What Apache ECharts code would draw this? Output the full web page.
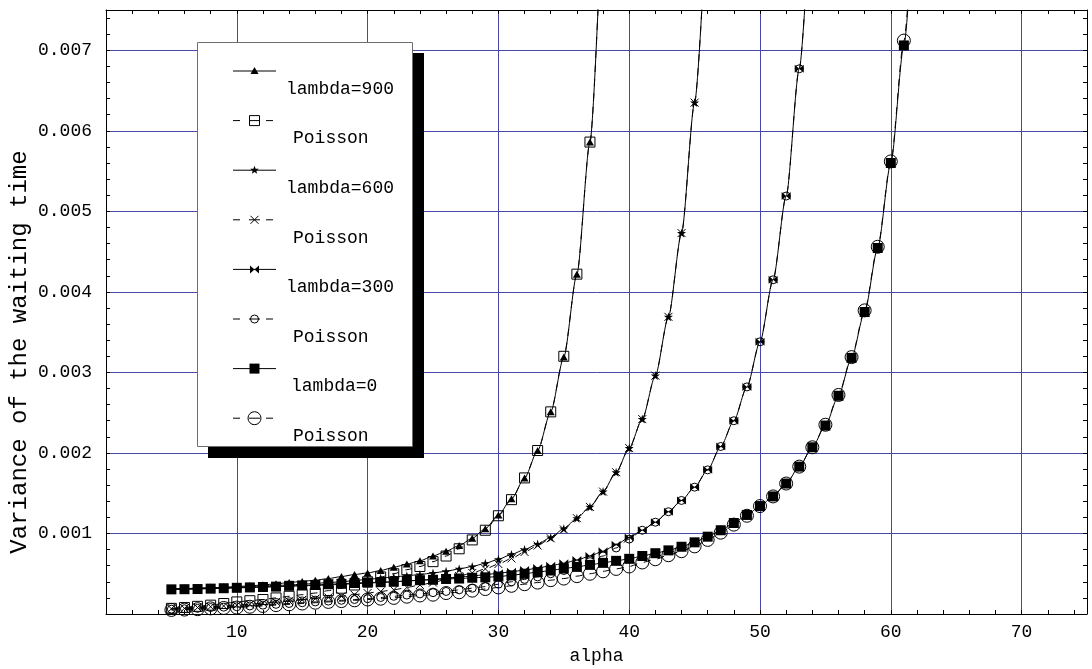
<!DOCTYPE html>
<html><head><meta charset="utf-8">
<script src="https://cdn.jsdelivr.net/npm/echarts@6/dist/echarts.min.js"></script>
<style>html,body{margin:0;padding:0;background:#fff}#c{width:1092px;height:669px}</style>
</head><body><div id="c"></div>
<script>
// ---- data (alpha values and variance of waiting time) ----
const alpha900 = [5,6,7,8,9,10,11,12,13,14,15,16,17,18,19,20,21,22,23,24,25,26,27,28,29,30,31,32,33,34,35,36,37,38];
const lambda900 = [0.00031,0.000315,0.00032,0.000325,0.00033,0.00034,0.00035,0.00036,0.000375,0.00039,0.000405,0.00042,0.00044,0.000465,0.00049,0.00051,0.00054,0.00058,0.00062,0.00066,0.00072,0.00078,0.00085,0.00094,0.00106,0.00123,0.00143,0.00169,0.00203,0.00251,0.00319,0.00422,0.00586,0.0090];
const poisson900 = [0.00007,0.00008,0.000095,0.00011,0.00013,0.00015,0.000165,0.00018,0.0002,0.00022,0.00024,0.00026,0.00029,0.00032,0.00036,0.0004,0.00046,0.0005,0.00055,0.00059,0.00065,0.00072,0.00081,0.00092,0.00104,0.00122,0.00142,0.00169,0.00203,0.00251,0.0032,0.00422,0.00586,0.0090];

const alpha600 = [5,6,7,8,9,10,11,12,13,14,15,16,17,18,19,20,21,22,23,24,25,26,27,28,29,30,31,32,33,34,35,36,37,38,39,40,41,42,43,44,45,46];
const lambda600 = [0.00031,0.000315,0.00032,0.000325,0.00033,0.000335,0.00034,0.00035,0.000355,0.00036,0.00037,0.00038,0.00039,0.0004,0.000415,0.00043,0.000445,0.00046,0.000475,0.00049,0.00051,0.00053,0.00056,0.00059,0.00063,0.00068,0.00074,0.0008,0.00087,0.00095,0.00106,0.00119,0.00133,0.00152,0.00176,0.00206,0.00242,0.00296,0.00369,0.00473,0.00635,0.0089];
const poisson600 = [0.000065,0.00007,0.00008,0.00009,0.0001,0.00011,0.00012,0.000135,0.00015,0.00016,0.000175,0.00019,0.000205,0.00022,0.00024,0.00026,0.00028,0.0003,0.00033,0.00036,0.00039,0.00043,0.00047,0.00051,0.00056,0.00062,0.00069,0.00077,0.00085,0.00094,0.00105,0.00119,0.00133,0.00152,0.00176,0.00206,0.00242,0.00296,0.00369,0.00473,0.00635,0.0089];

const alpha300 = [5,6,7,8,9,10,11,12,13,14,15,16,17,18,19,20,21,22,23,24,25,26,27,28,29,30,31,32,33,34,35,36,37,38,39,40,41,42,43,44,45,46,47,48,49,50,51,52,53,54];
const lambda300 = [0.00031,0.00031,0.000315,0.00032,0.00032,0.000325,0.00033,0.000335,0.00034,0.000345,0.00035,0.000355,0.00036,0.00037,0.000375,0.000385,0.00039,0.0004,0.00041,0.00042,0.00043,0.000445,0.00046,0.00047,0.00049,0.000505,0.000525,0.000545,0.00057,0.0006,0.00063,0.00067,0.00072,0.00078,0.00086,0.00095,0.00104,0.00114,0.00127,0.00141,0.001575,0.00179,0.00208,0.0024,0.00282,0.00338,0.00415,0.00519,0.00677,0.0092];
const poisson300 = [0.00006,0.000065,0.00007,0.00008,0.000085,0.00009,0.0001,0.00011,0.00012,0.00013,0.00014,0.00015,0.00016,0.00017,0.00018,0.00019,0.000205,0.00022,0.000235,0.00025,0.000265,0.00028,0.0003,0.00032,0.00034,0.00037,0.0004,0.00043,0.00046,0.0005,0.00054,0.00059,0.00065,0.00072,0.00082,0.00093,0.00104,0.00114,0.00127,0.00141,0.001575,0.00179,0.00208,0.0024,0.00282,0.00338,0.00415,0.00519,0.00677,0.0092];

const alpha0 = [5,6,7,8,9,10,11,12,13,14,15,16,17,18,19,20,21,22,23,24,25,26,27,28,29,30,31,32,33,34,35,36,37,38,39,40,41,42,43,44,45,46,47,48,49,50,51,52,53,54,55,56,57,58,59,60,61,62];
const lambda0 = [0.000306,0.000308,0.00031,0.000315,0.00032,0.000325,0.00033,0.000335,0.00034,0.00035,0.000355,0.00036,0.00037,0.000375,0.000385,0.00039,0.000395,0.0004,0.00041,0.00042,0.000425,0.000435,0.00044,0.00045,0.000455,0.000465,0.00048,0.0005,0.00052,0.00054,0.000565,0.000585,0.00061,0.000635,0.00066,0.000685,0.00072,0.000755,0.00079,0.000835,0.00089,0.00096,0.00104,0.00113,0.00123,0.00134,0.00146,0.00162,0.00183,0.00207,0.00234,0.00271,0.00318,0.00375,0.004545,0.0056,0.00706,0.0094];
const poisson0 = [0.00005,0.000055,0.00006,0.00007,0.000075,0.00008,0.00009,0.0001,0.00011,0.00012,0.00013,0.00014,0.00015,0.00016,0.00017,0.00018,0.00019,0.0002,0.000215,0.00023,0.00024,0.00026,0.00027,0.00029,0.00031,0.00033,0.00035,0.00037,0.00039,0.00042,0.00044,0.00047,0.0005,0.00053,0.00056,0.00059,0.00064,0.00068,0.00073,0.00078,0.00084,0.00092,0.00101,0.00111,0.00122,0.00134,0.00146,0.00162,0.00183,0.00207,0.00235,0.00272,0.00319,0.00377,0.00456,0.00562,0.00712,0.0095];

const legendLabels = ['lambda=900','Poisson','lambda=600','Poisson','lambda=300','Poisson','lambda=0','Poisson'];

// ---- styling ----
const FONT = 'Liberation Mono';
const BLUE = '#4848a8';
const STAR = 'path://M50,0L61,35L98,35L68,57L79,91L50,70L21,91L32,57L2,35L39,35Z';
const CROSS = 'path://M0,0L10,10M10,0L0,10';
const BOWTIE = 'path://M0,0L10,5L0,10ZM20,0L10,5L20,10Z';
const pairs = (xs, ys) => xs.map((x, i) => [x, ys[i]]);
const solid = {color:'#000', width:1, type:'solid'};
const dashed = {color:'#000', width:1, type:[7,7]};
const filled = {color:'#000', borderColor:'#000', borderWidth:0};
const open = {color:'rgba(0,0,0,0)', borderColor:'#000', borderWidth:1};

function mk(name, xs, ys, symbol, size, item, line, z){
  return {name, type:'line', data:pairs(xs, ys), symbol, symbolSize:size, showAllSymbol:true,
    itemStyle:item, lineStyle:line, smooth:0.25, smoothMonotone:'x', z, emphasis:{disabled:true}, silent:true};
}

const series = [
  mk(legendLabels[0], alpha900, lambda900, 'triangle', [8,7], filled, solid, 2),
  mk(legendLabels[1], alpha900, poisson900, 'rect', 10, open, dashed, 3),
  mk(legendLabels[2], alpha600, lambda600, STAR, 9, filled, solid, 4),
  mk(legendLabels[3], alpha600, poisson600, CROSS, 8, open, dashed, 5),
  mk(legendLabels[4], alpha300, lambda300, BOWTIE, [9,8], filled, solid, 6),
  mk(legendLabels[5], alpha300, poisson300, 'circle', 8, open, dashed, 7),
  mk(legendLabels[6], alpha0, lambda0, 'rect', 10, filled, solid, 8),
  mk(legendLabels[7], alpha0, poisson0, 'circle', 13, open, dashed, 9)
];

// ---- legend as graphic ----
const LX0 = 233, LX1 = 276, LSX = 254.5, LY0 = 71, LDY = 49.6;
const graphic = [
  {type:'rect', shape:{x:208, y:53, width:216, height:405}, style:{fill:'#000'}, z:100},
  {type:'rect', shape:{x:197.5, y:42.5, width:215, height:404}, style:{fill:'#fff', stroke:'#6e6e6e', lineWidth:1}, z:101},
  {type:'text', x:20, y:352, rotation:Math.PI/2,
   style:{text:'Variance of the waiting time', font:'24px "Liberation Mono"', fill:'#000', textAlign:'center', textVerticalAlign:'middle'}, z:104}
];
const textX = [286, 293, 286, 293, 286, 293, 291, 293];
function starPts(cx, cy, R, r){
  const p = [];
  for (let k = 0; k < 10; k++){
    const a = -Math.PI/2 + k*Math.PI/5, rr = k%2 ? r : R;
    p.push([cx + rr*Math.cos(a), cy + rr*Math.sin(a)]);
  }
  return p;
}
legendLabels.forEach((lab, i) => {
  const y = LY0 + i*LDY;
  const ls = {stroke:'#000', lineWidth:1};
  const push = el => { el.z = 103; graphic.push(el); };
  if (i % 2 === 0) {
    push({type:'line', shape:{x1:LX0, y1:y, x2:LX1, y2:y}, style:ls});
  } else {
    [[233,240],[249,260],[266,273]].forEach(s => push({type:'line', shape:{x1:s[0], y1:y, x2:s[1], y2:y}, style:ls}));
  }
  const st = {fill:'#000', stroke:'#000', lineWidth:0};
  const so = {fill:'none', stroke:'#000', lineWidth:1};
  switch(i){
    case 0: push({type:'polygon', shape:{points:[[LSX,y-4],[LSX+4,y+3],[LSX-4,y+3]]}, style:st}); break;
    case 1: push({type:'rect', shape:{x:LSX-5, y:y-5, width:10, height:10}, style:so}); break;
    case 2: push({type:'polygon', shape:{points:starPts(LSX, y, 4.5, 1.9)}, style:st}); break;
    case 3:
      push({type:'line', shape:{x1:LSX-4, y1:y-4, x2:LSX+4, y2:y+4}, style:so});
      push({type:'line', shape:{x1:LSX+4, y1:y-4, x2:LSX-4, y2:y+4}, style:so}); break;
    case 4:
      push({type:'polygon', shape:{points:[[LSX-4.5,y-4],[LSX,y],[LSX-4.5,y+4]]}, style:st});
      push({type:'polygon', shape:{points:[[LSX+4.5,y-4],[LSX,y],[LSX+4.5,y+4]]}, style:st}); break;
    case 5: push({type:'circle', shape:{cx:LSX, cy:y, r:4}, style:so}); break;
    case 6: push({type:'rect', shape:{x:LSX-5, y:y-5, width:10, height:10}, style:st}); break;
    case 7: push({type:'circle', shape:{cx:LSX, cy:y, r:6.5}, style:so}); break;
  }
  push({type:'text', x:textX[i], y:y+18, style:{text:lab, font:'18px "Liberation Mono"', fill:'#000', textVerticalAlign:'middle'}});
});

const axisCommon = {
  axisLine:{show:true, onZero:false, lineStyle:{color:'#000', width:1}},
  axisTick:{show:true, inside:true, length:4, lineStyle:{color:'#000', width:1}},
  minorTick:{show:true, splitNumber:5, length:4, lineStyle:{color:'#000', width:1}},
  minorSplitLine:{show:false}
};
const labelStyle = {fontFamily:FONT, fontSize:18, color:'#000', showMinLabel:false, showMaxLabel:false};

const option = {
  animation:false,
  backgroundColor:'#fff',
  grid:{left:106, right:5, top:10, bottom:55, containLabel:false, outerBoundsMode:'none'},
  xAxis:[
    Object.assign({type:'value', min:0, max:75, interval:10, position:'bottom',
      splitLine:{show:true, lineStyle:{color:BLUE, width:1}},
      axisLabel:Object.assign({margin:9}, labelStyle),
      name:'alpha', nameLocation:'middle', nameGap:33,
      nameTextStyle:{fontFamily:FONT, fontSize:18, color:'#000'}}, axisCommon),
    Object.assign({type:'value', min:0, max:75, interval:10, position:'top',
      splitLine:{show:false}, axisLabel:{show:false}}, axisCommon)
  ],
  yAxis:[
    Object.assign({type:'value', min:0, max:0.0075, interval:0.001, position:'left',
      splitLine:{show:true, lineStyle:{color:BLUE, width:1}},
      axisLabel:Object.assign({margin:14, formatter:v => v.toFixed(3)}, labelStyle)}, axisCommon),
    Object.assign({type:'value', min:0, max:0.0075, interval:0.001, position:'right',
      splitLine:{show:false}, axisLabel:{show:false}}, axisCommon)
  ],
  series,
  graphic
};
const chart = echarts.init(document.getElementById('c'), null, {renderer:'canvas'});
chart.setOption(option);
</script></body></html>
